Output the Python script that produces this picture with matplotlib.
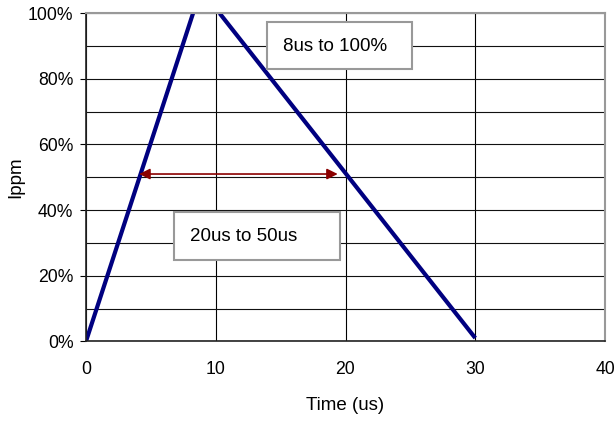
import matplotlib
matplotlib.use("Agg")
import matplotlib.pyplot as plt
from matplotlib.patches import Rectangle
from matplotlib.ticker import FuncFormatter, MultipleLocator

plt.rcParams['font.family'] = ['Liberation Sans', 'DejaVu Sans']

# rise and fall segments of the pulse
rise_t = [0, 8.25]
rise_i = [0, 100]
fall_t = [10.3, 30]
fall_i = [100, 1]

# width arrow at half amplitude
arrow_t = [4.1, 19.4]
arrow_i = 51

labels = ["8us to 100%", "20us to 50us"]

fig = plt.figure(figsize=(6.16, 4.24), dpi=100)
ax = fig.add_axes([86 / 616, (424 - 341.3) / 424, 519 / 616, 328 / 424])

ax.set_xlim(0, 40)
ax.set_ylim(0, 100)
ax.xaxis.set_major_locator(MultipleLocator(10))
ax.yaxis.set_major_locator(MultipleLocator(20))
ax.yaxis.set_minor_locator(MultipleLocator(10))
ax.yaxis.set_major_formatter(FuncFormatter(lambda v, p: f"{v:.0f}%"))

ax.grid(True, which="both", axis="y", color="#111111", linewidth=0.8)
ax.grid(True, which="major", axis="x", color="black", linewidth=0.8)
ax.set_axisbelow(True)

for s in ["top", "right"]:
    ax.spines[s].set_color("#999999")
    ax.spines[s].set_linewidth(1.5)
for s in ["left", "bottom"]:
    ax.spines[s].set_color("#222222")
    ax.spines[s].set_linewidth(1.2)

ax.tick_params(axis="y", which="major", length=4, labelsize=12.7, pad=5)
ax.tick_params(axis="y", which="minor", length=0)
ax.tick_params(axis="x", length=0, labelsize=12.7, pad=14)

ax.plot(rise_t, rise_i, color="#000080", linewidth=3, solid_capstyle="butt")
ax.plot(fall_t, fall_i, color="#000080", linewidth=3, solid_capstyle="butt")

ax.annotate("", xy=(arrow_t[0], arrow_i), xytext=(arrow_t[1], arrow_i),
            arrowprops=dict(arrowstyle="<|-|>", color="#8B0000", lw=1.2,
                            mutation_scale=16, shrinkA=0, shrinkB=0))

# label boxes
ax.add_patch(Rectangle((13.93, 83.0), 11.17, 14.4, facecolor="white",
                       edgecolor="#999999", linewidth=1.5, zorder=3))
ax.text(15.2, 89.9, labels[0], fontsize=13.5, va="center", ha="left", zorder=4)
ax.add_patch(Rectangle((6.78, 24.8), 12.8, 14.5, facecolor="white",
                       edgecolor="#999999", linewidth=1.5, zorder=3))
ax.text(8.02, 32.0, labels[1], fontsize=13.5, va="center", ha="left", zorder=4)

ax.set_ylabel("Ippm", fontsize=13.5, labelpad=3)
ax.set_xlabel("Time (us)", fontsize=13.5, labelpad=14)

fig.savefig("out.png", dpi=100)
